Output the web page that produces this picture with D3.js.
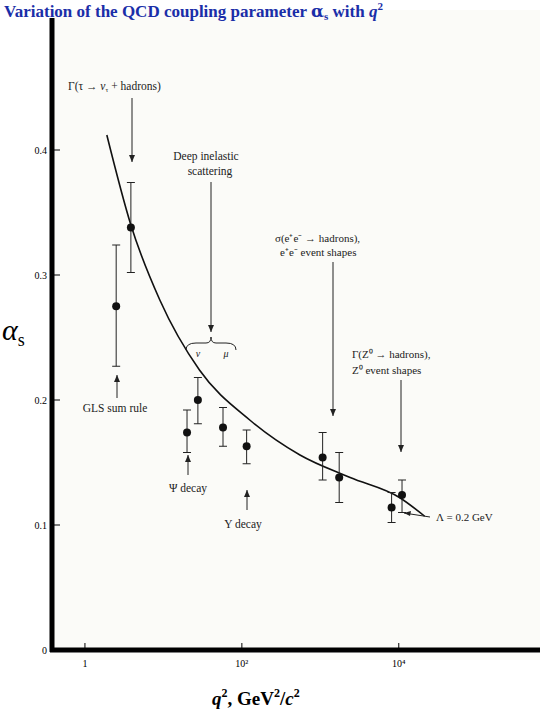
<!DOCTYPE html><html><head><meta charset="utf-8"><script src="https://cdn.jsdelivr.net/npm/d3@7"></script>
<style>body{margin:0;background:#fff}</style></head><body><svg id="c" width="540" height="720"></svg><script>
const q2 = [2.5, 3.85, 20, 27.5, 57.5, 115, 1070, 1740, 8100, 11000];
const alpha = [0.275, 0.338, 0.174, 0.2, 0.178, 0.163, 0.154, 0.138, 0.114, 0.124];
const errHi = [0.324, 0.374, 0.192, 0.218, 0.194, 0.176, 0.174, 0.158, 0.126, 0.136];
const errLo = [0.227, 0.302, 0.158, 0.181, 0.163, 0.149, 0.136, 0.118, 0.102, 0.110];
const curveQ2 = [1.9, 3.85, 9.0, 28.8, 126, 550, 2400, 10200, 21400];
const curveA = [0.412, 0.34, 0.28, 0.224, 0.184, 0.156, 0.138, 0.122, 0.107];
const yTicks = [0, 0.1, 0.2, 0.3, 0.4];
const xTicks = [1, 100, 10000];
const xTickLabels = ["1", "10²", "10⁴"];

const svg = d3.select("#c");
const x = d3.scaleLog().domain([Math.pow(10,-0.42), Math.pow(10,5.8)]).range([52,540]);
const y = d3.scaleLinear().domain([0,0.5]).range([650,25]);
const serif = "Liberation Serif, Times New Roman, serif";

svg.append("rect").attr("x",50).attr("y",10).attr("width",490).attr("height",650).attr("fill","#fbfbf8");
svg.append("line").attr("x1",52).attr("x2",52).attr("y1",18).attr("y2",652).attr("stroke","#000").attr("stroke-width",5);
svg.append("line").attr("x1",50).attr("x2",540).attr("y1",650).attr("y2",650).attr("stroke","#000").attr("stroke-width",5);
yTicks.forEach(t=>{
  svg.append("line").attr("x1",52).attr("x2",60).attr("y1",y(t)).attr("y2",y(t)).attr("stroke","#000");
  svg.append("text").attr("x",47).attr("y",y(t)+4).attr("text-anchor","end").attr("font-family",serif).attr("font-size",10).text(t===0?"0":t.toFixed(1));
});
xTicks.forEach((t,i)=>{
  svg.append("line").attr("x1",x(t)).attr("x2",x(t)).attr("y1",650).attr("y2",643).attr("stroke","#000");
  svg.append("text").attr("x",x(t)).attr("y",667).attr("text-anchor","middle").attr("font-family",serif).attr("font-size",10).text(xTickLabels[i]);
});
const line = d3.line().x((d,i)=>x(curveQ2[i])).y(d=>y(d)).curve(d3.curveMonotoneX);
svg.append("path").attr("d",line(curveA)).attr("fill","none").attr("stroke","#111").attr("stroke-width",1.6);
q2.forEach((q,i)=>{
  const g = svg.append("g").attr("stroke","#222").attr("stroke-width",1);
  g.append("line").attr("x1",x(q)).attr("x2",x(q)).attr("y1",y(errHi[i])).attr("y2",y(errLo[i]));
  [errHi[i],errLo[i]].forEach(v=>g.append("line").attr("x1",x(q)-4).attr("x2",x(q)+4).attr("y1",y(v)).attr("y2",y(v)));
  svg.append("circle").attr("cx",x(q)).attr("cy",y(alpha[i])).attr("r",4).attr("fill","#111");
});
function txt(s,px,py,anchor="middle",size=11.5){return svg.append("text").attr("x",px).attr("y",py).attr("text-anchor",anchor).attr("font-family",serif).attr("font-size",size).attr("fill","#222").text(s);}
function arrow(px,y1,y2){
  svg.append("line").attr("x1",px).attr("x2",px).attr("y1",y1).attr("y2",y2).attr("stroke","#222");
  const d = y2>y1?-1:1;
  svg.append("path").attr("d",`M${px-3},${y2+d*7}L${px+3},${y2+d*7}L${px},${y2}Z`).attr("fill","#222");
}
const g1 = txt("Γ(τ → ",68,90,"start");
g1.append("tspan").text("ν").attr("font-style","italic");
g1.append("tspan").text("τ").attr("font-size",7).attr("dy",2);
g1.append("tspan").text(" + hadrons)").attr("dy",-2);
arrow(132,98,162);
txt("Deep inelastic",206,160); txt("scattering",210,175);
arrow(211,182,332);
svg.append("path").attr("d","M186,350 Q186,343 196,343 L206,343 Q211,343 211,337 Q211,343 216,343 L226,343 Q236,343 236,350").attr("fill","none").attr("stroke","#222");
txt("ν",198,357,"middle",10).attr("font-style","italic"); txt("μ",226,357,"middle",10).attr("font-style","italic");
txt("σ(e⁺e⁻ → hadrons),",275,242,"start",11); txt("e⁺e⁻ event shapes",280,256,"start",11);
arrow(333,262,416);
txt("Γ(Z⁰ → hadrons),",352,358,"start",11); txt("Z⁰ event shapes",352,374,"start",11);
arrow(401,380,452);
arrow(117,398,375);
txt("GLS sum rule",115,412);
arrow(188,475,455);
txt("Ψ decay",188,492);
arrow(247,510,490);
txt("Υ decay",243,528);
svg.append("line").attr("x1",404).attr("x2",430).attr("y1",513).attr("y2",517).attr("stroke","#222");
svg.append("path").attr("d","M404,513 L411,511 L410,516Z").attr("fill","#222");
txt("Λ = 0.2 GeV",436,521,"start",11);
const tt = svg.append("text").attr("x",4).attr("y",17).attr("font-family",serif).attr("font-size",17).attr("font-weight","bold").attr("fill","#1a2ea8");
tt.append("tspan").text("Variation of the QCD coupling parameter ");
tt.append("tspan").text("α").attr("font-family","DejaVu Serif, serif");
tt.append("tspan").text("s").attr("font-size",11).attr("dy",3);
tt.append("tspan").text(" with ").attr("dy",-3);
tt.append("tspan").text("q").attr("font-style","italic");
tt.append("tspan").text("2").attr("font-size",11).attr("dy",-7);
const yl = svg.append("text").attr("x",2).attr("y",340).attr("font-family",serif).attr("font-size",30).attr("font-style","italic");
yl.append("tspan").text("α");
yl.append("tspan").text("s").attr("font-size",18).attr("font-style","normal").attr("dy",6);
const xl = svg.append("text").attr("x",212).attr("y",705).attr("font-family",serif).attr("font-size",19).attr("font-weight","bold");
xl.append("tspan").text("q").attr("font-style","italic");
xl.append("tspan").text("2").attr("font-size",12).attr("dy",-8);
xl.append("tspan").text(", GeV").attr("dy",8);
xl.append("tspan").text("2").attr("font-size",12).attr("dy",-8);
xl.append("tspan").text("/").attr("dy",8);
xl.append("tspan").text("c").attr("font-style","italic");
xl.append("tspan").text("2").attr("font-size",12).attr("dy",-8);
</script></body></html>
